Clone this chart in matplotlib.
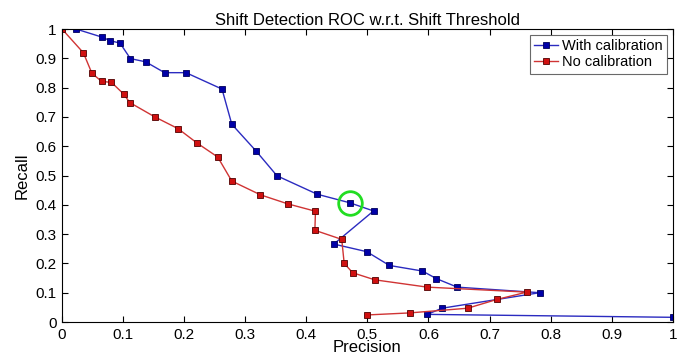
import matplotlib

matplotlib.use("Agg")
import matplotlib.pyplot as plt

plt.rcParams["font.family"] = ["Liberation Sans", "DejaVu Sans"]

# precision / recall pairs
calib_precision = [0.023, 0.066, 0.079, 0.095, 0.112, 0.137, 0.168, 0.203, 0.262, 0.278,
                   0.318, 0.352, 0.418, 0.471, 0.510, 0.445, 0.499, 0.536, 0.590, 0.613,
                   0.647, 0.782, 0.622, 0.598, 1.0]
calib_recall = [1.0, 0.972, 0.960, 0.952, 0.899, 0.888, 0.851, 0.851, 0.795, 0.675,
                0.583, 0.499, 0.436, 0.407, 0.379, 0.266, 0.240, 0.193, 0.174, 0.148,
                0.119, 0.100, 0.047, 0.026, 0.016]

nocal_precision = [0.0, 0.035, 0.049, 0.065, 0.081, 0.101, 0.111, 0.152, 0.190, 0.221,
                   0.255, 0.278, 0.325, 0.370, 0.415, 0.414, 0.458, 0.462, 0.476, 0.512,
                   0.598, 0.761, 0.712, 0.664, 0.569, 0.499]
nocal_recall = [1.0, 0.919, 0.849, 0.821, 0.818, 0.778, 0.749, 0.700, 0.660, 0.611,
                0.563, 0.481, 0.434, 0.403, 0.378, 0.313, 0.282, 0.200, 0.168, 0.144,
                0.119, 0.102, 0.077, 0.047, 0.031, 0.024]

# chosen operating point (circled)
chosen_point = (0.471, 0.407)

fig = plt.figure(figsize=(6.81, 3.56), dpi=100)
ax = fig.add_axes([0.091, 0.0955, 0.897, 0.823])

ax.plot(calib_precision, calib_recall, color="#2b2bc0", lw=1.0, marker="s",
        markersize=5, markerfacecolor="#0000a8", markeredgecolor="#00005a",
        markeredgewidth=0.6, label="With calibration")
ax.plot(nocal_precision, nocal_recall, color="#d03434", lw=1.0, marker="s",
        markersize=5, markerfacecolor="#d01010", markeredgecolor="#500000",
        markeredgewidth=0.6, label="No calibration")
ax.plot([chosen_point[0]], [chosen_point[1]], marker="o", markersize=17,
        markerfacecolor="none", markeredgecolor="#22dd22", markeredgewidth=2, ls="none")

ax.set_xlim(0, 1)
ax.set_ylim(0, 1)
ticks = [0, 0.1, 0.2, 0.3, 0.4, 0.5, 0.6, 0.7, 0.8, 0.9, 1]
labels = ["0", "0.1", "0.2", "0.3", "0.4", "0.5", "0.6", "0.7", "0.8", "0.9", "1"]
ax.set_xticks(ticks)
ax.set_xticklabels(labels)
ax.set_yticks(ticks)
ax.set_yticklabels(labels)
ax.tick_params(direction="in", top=True, right=True, length=4, labelsize=11, pad=4)

ax.set_title("Shift Detection ROC w.r.t. Shift Threshold", fontsize=12, pad=3)
ax.set_xlabel("Precision", fontsize=12, labelpad=-1)
ax.set_ylabel("Recall", fontsize=12, labelpad=4)

leg = ax.legend(loc="upper right", fontsize=10.5, frameon=True, fancybox=False,
                handlelength=1.6, handletextpad=0.3, borderpad=0.3, labelspacing=0.15,
                borderaxespad=0.4)
leg.get_frame().set_edgecolor("#444444")
leg.get_frame().set_linewidth(0.8)

fig.savefig("out.png", dpi=100)
